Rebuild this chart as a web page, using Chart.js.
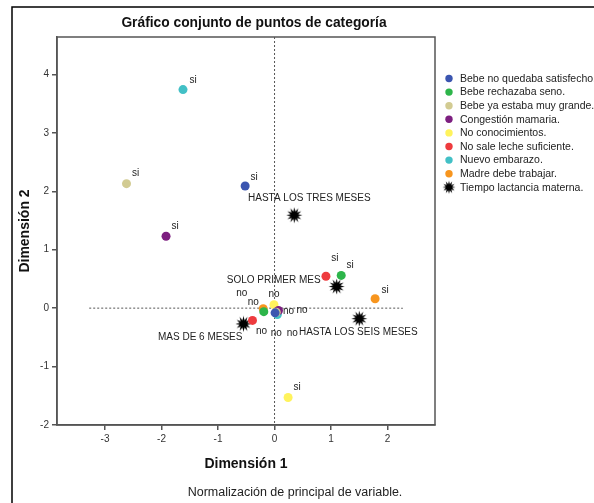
<!DOCTYPE html>
<html><head><meta charset="utf-8">
<script src="https://cdn.jsdelivr.net/npm/chart.js@4.4.1/dist/chart.umd.min.js"></script>
<style>html,body{margin:0;padding:0;background:#fff}canvas{display:block}</style>
</head><body>
<canvas id="c" width="594" height="503"></canvas>
<script>
// ---- data ----
const categories = ['Bebe no quedaba satisfecho.','Bebe rechazaba seno.','Bebe ya estaba muy grande.','Congestión mamaria.','No conocimientos.','No sale leche suficiente.','Nuevo embarazo.','Madre debe trabajar.'];
const siX = [-0.52, 1.18, -2.62, -1.92, 0.24, 0.91, -1.62, 1.78];
const siY = [2.09, 0.56, 2.13, 1.23, -1.53, 0.545, 3.74, 0.16];
const noX = [0.01, -0.19, 0.03, 0.07, -0.01, -0.39, 0.05, -0.20];
const noY = [-0.08, -0.06, -0.07, -0.04, 0.06, -0.21, -0.11, -0.01];
const levelLabels = ['si','no'];
const tiempoName = 'Tiempo lactancia materna.';
const tiempoLabels = ['HASTA LOS TRES MESES','SOLO PRIMER MES','MAS DE 6 MESES','HASTA LOS SEIS MESES'];
const tiempoX = [0.35, 1.10, -0.55, 1.50];
const tiempoY = [1.59, 0.37, -0.27, -0.18];
const xTicks = [-3,-2,-1,0,1,2];
const yTicks = [-2,-1,0,1,2,3,4];
const titleText = 'Gráfico conjunto de puntos de categoría';
const xTitle = 'Dimensión 1';
const yTitle = 'Dimensión 2';
const footnote = 'Normalización de principal de variable.';

// ---- style ----
const colors = ['#3B55B0','#2DB54A','#D2CB92','#7D1F80','#FFF35C','#EE3B3E','#42C0C6','#F7951E'];
const FONT = '"Liberation Sans", Arial, Helvetica, sans-serif';
// label offsets in px: [si offset, no offset] per category
const siOff = [[9,-9],[9,-10],[9,-10],[9,-10],[9,-10],[9,-18],[10,-9],[10,-9]];
const noOff = [[27,-3],[-22,-18],[16,21],[10,1],[0,-10],[9,11],[-1,19],[-10,-6]];
const starOff = [[15,-17,'center'],[-16,-6,'right'],[-1,13,'right'],[-1,14,'center']];

function makeStar(size){
  const cv = document.createElement('canvas');
  cv.width = size; cv.height = size;
  const g = cv.getContext('2d');
  const c = size/2, ro = size/2 - 0.5, ri = ro*0.5, n = 12;
  g.beginPath();
  for (let i=0;i<n*2;i++){
    const r = i%2===0 ? ro : ri;
    const a = Math.PI*i/n - Math.PI/2;
    const px = c + r*Math.cos(a), py = c + r*Math.sin(a);
    if(i===0) g.moveTo(px,py); else g.lineTo(px,py);
  }
  g.closePath(); g.fillStyle = '#000'; g.fill();
  return cv;
}
const starImg = makeStar(17);
const starImgSmall = makeStar(14);

const datasets = categories.map((name,i)=>({
  label: name,
  data: [{x: siX[i], y: siY[i]}, {x: noX[i], y: noY[i]}],
  backgroundColor: colors[i],
  borderColor: colors[i],
  pointRadius: 4.5,
  borderWidth: 0
}));
datasets.push({
  label: tiempoName,
  data: tiempoX.map((x,i)=>({x, y: tiempoY[i]})),
  pointStyle: starImg,
  pointRadius: 8,
  backgroundColor:'#000', borderColor:'#000'
});

const decor = {
  id: 'decor',
  beforeDatasetsDraw(chart){
    const {ctx, chartArea:a, scales:{x,y}} = chart;
    ctx.save();
    ctx.strokeStyle = '#555'; ctx.lineWidth = 1; ctx.setLineDash([2,2]);
    const x0 = x.getPixelForValue(0), y0 = y.getPixelForValue(0);
    ctx.beginPath(); ctx.moveTo(x0, a.top); ctx.lineTo(x0, a.bottom); ctx.stroke();
    ctx.beginPath(); ctx.moveTo(x.getPixelForValue(-3.28), y0); ctx.lineTo(x.getPixelForValue(2.27), y0); ctx.stroke();
    ctx.restore();
  },
  afterDatasetsDraw(chart){
    const {ctx} = chart;
    ctx.save();
    ctx.font = '10px ' + FONT; ctx.fillStyle = '#222'; ctx.textBaseline = 'middle';
    for (let i=0;i<categories.length;i++){
      const meta = chart.getDatasetMeta(i);
      [siOff[i], noOff[i]].forEach((o,k)=>{
        const p = meta.data[k];
        ctx.textAlign = 'center';
        ctx.fillText(levelLabels[k], p.x + o[0], p.y + o[1]);
      });
    }
    const sm = chart.getDatasetMeta(categories.length);
    tiempoLabels.forEach((t,i)=>{
      const p = sm.data[i], o = starOff[i];
      ctx.textAlign = o[2];
      ctx.fillText(t, p.x + o[0], p.y + o[1]);
    });
    ctx.restore();
  },
  afterDraw(chart){
    const {ctx, chartArea:a} = chart;
    ctx.save();
    // plot frame
    ctx.strokeStyle = '#555'; ctx.lineWidth = 1.5;
    ctx.strokeRect(a.left, a.top, a.right-a.left, a.bottom-a.top);
    // outer frame
    ctx.strokeStyle = '#000'; ctx.lineWidth = 1.5;
    ctx.strokeRect(12, 7, 600, 510);
    // title
    ctx.fillStyle = '#111'; ctx.textAlign = 'center'; ctx.textBaseline = 'middle';
    ctx.font = 'bold 13.8px ' + FONT;
    ctx.fillText(titleText, 254, 23);
    // footnote
    ctx.font = '12.5px ' + FONT; ctx.fillStyle = '#222';
    ctx.fillText(footnote, 295, 493);
    // legend
    ctx.textAlign = 'left'; ctx.font = '10.5px ' + FONT;
    const lx = 449, ly = 78.5, step = 13.6;
    categories.forEach((name,i)=>{
      const yy = ly + i*step;
      ctx.beginPath(); ctx.arc(lx, yy, 3.7, 0, Math.PI*2); ctx.fillStyle = colors[i]; ctx.fill();
      ctx.fillStyle = '#222'; ctx.fillText(name, lx+11, yy+0.5);
    });
    const yy = ly + categories.length*step;
    ctx.drawImage(starImgSmall, lx-7, yy-7);
    ctx.fillStyle = '#222'; ctx.fillText(tiempoName, lx+11, yy+0.5);
    ctx.restore();
  }
};

new Chart(document.getElementById('c'), {
  type: 'scatter',
  data: { datasets },
  plugins: [decor],
  options: {
    responsive: false, animation: false,
    layout: { padding: { left: 0, top: 37, right: 159, bottom: 28 } },
    plugins: { legend: { display: false }, tooltip: { enabled: false }, title: { display: false } },
    scales: {
      x: {
        type: 'linear', min: -3.85, max: 2.84,
        afterBuildTicks: s => { s.ticks = xTicks.map(v => ({ value: v })); },
        afterFit: s => { s.height = 50; },
        grid: { drawOnChartArea: false, drawTicks: true, tickLength: 5, color: '#555', lineWidth: 1.5 },
        border: { display: true, color: '#555', width: 1.5 },
        ticks: { font: { size: 10, family: FONT }, color: '#333', padding: 3, autoSkip: false, maxRotation: 0, callback: v => String(v) },
        title: { display: true, text: xTitle, font: { size: 14, weight: 'bold', family: FONT }, color: '#111', padding: { top: 0, bottom: 2.6 } }
      },
      y: {
        type: 'linear', min: -2, max: 4.64,
        afterBuildTicks: s => { s.ticks = yTicks.map(v => ({ value: v })); },
        afterFit: s => { s.width = 57; },
        grid: { drawOnChartArea: false, drawTicks: true, tickLength: 5, color: '#555', lineWidth: 1.5 },
        border: { display: true, color: '#555', width: 1.5 },
        ticks: { font: { size: 10, family: FONT }, color: '#333', padding: 3, autoSkip: false, callback: v => String(v) },
        title: { display: true, text: yTitle, font: { size: 14, weight: 'bold', family: FONT }, color: '#111', padding: { top: 16.6, bottom: 0 } }
      }
    }
  }
});
</script>
</body></html>
